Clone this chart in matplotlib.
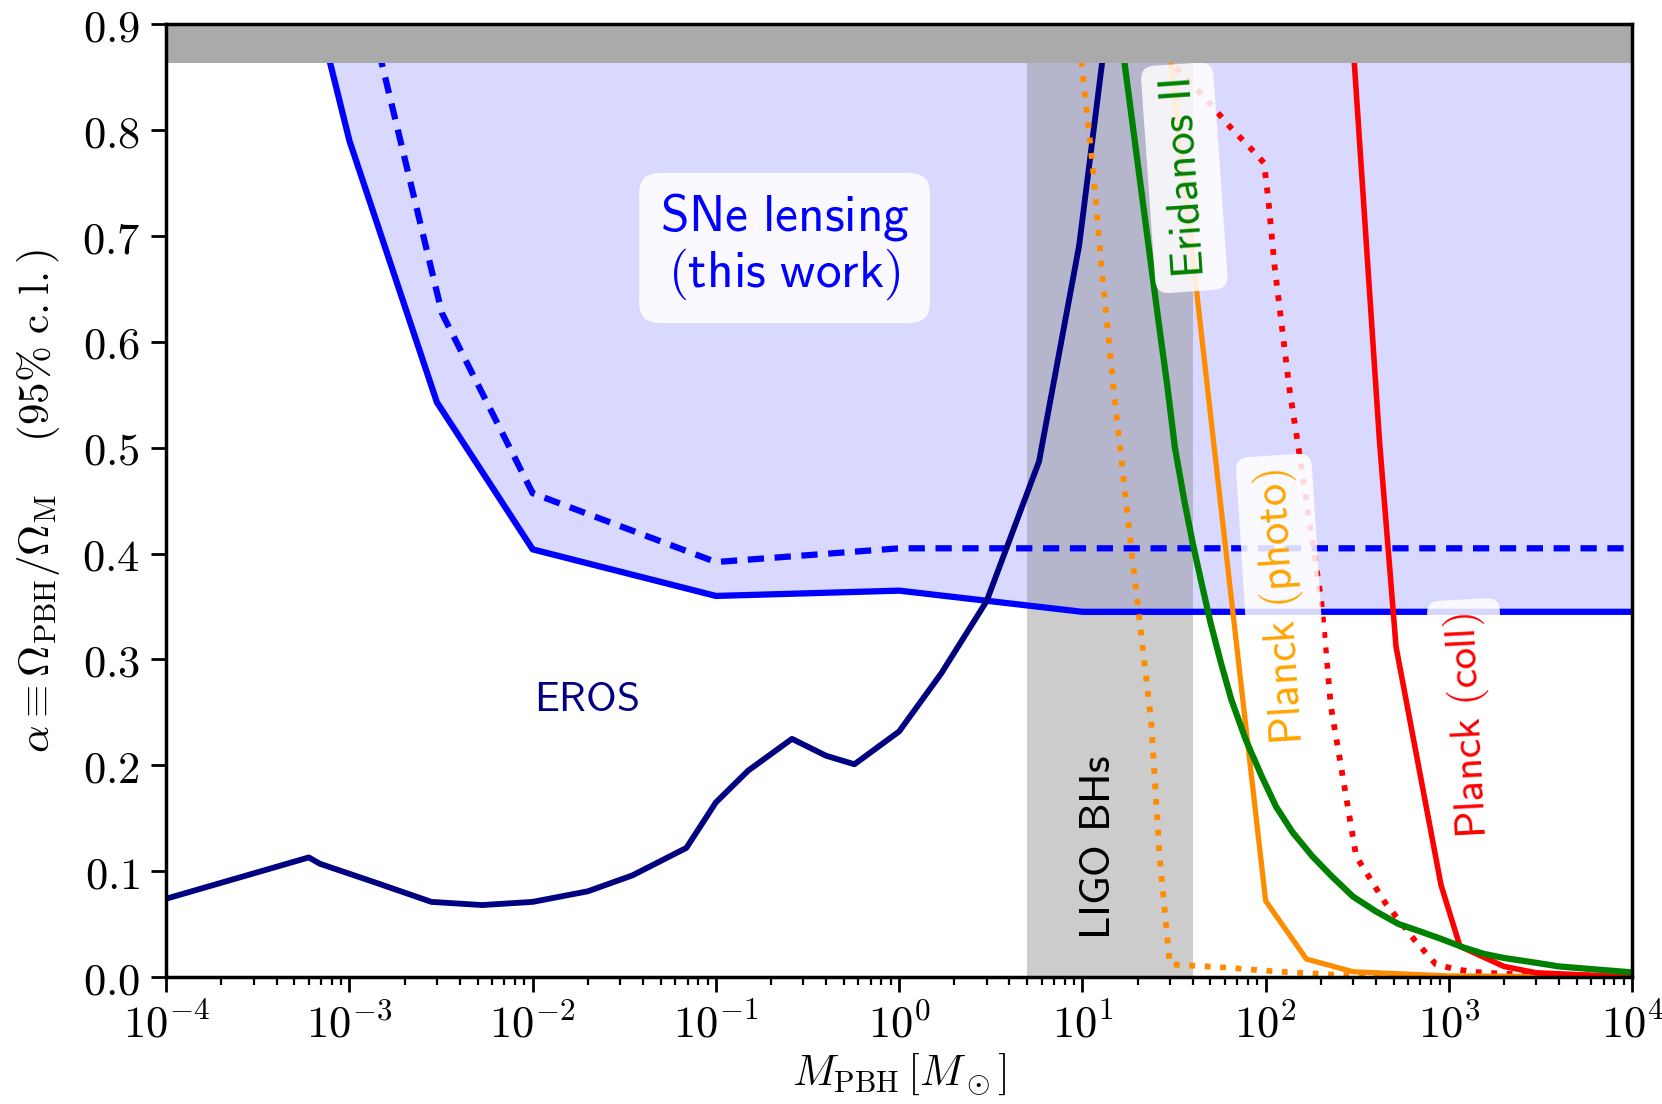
import numpy as np
import matplotlib
matplotlib.use("Agg")
import matplotlib.pyplot as plt

plt.rcParams['mathtext.fontset'] = 'cm'
plt.rcParams['axes.unicode_minus'] = False

# limites (M_PBH em massas solares, alpha)
sne_m = [5e-4, 1e-3, 3e-3, 1e-2, 0.1, 1.0, 10.0, 1e4]
sne_a = [1.00, 0.79, 0.543, 0.404, 0.360, 0.365, 0.345, 0.345]

sne_dash_m = [1e-3, 3.2e-3, 1e-2, 0.1, 1.0, 1e4]
sne_dash_a = [0.99, 0.627, 0.457, 0.392, 0.405, 0.405]

eros_m = [1e-4, 6e-4, 6.9e-4, 1.4e-3, 2.8e-3, 5.3e-3, 1e-2, 2e-2, 3.5e-2, 6.9e-2,
          0.1, 0.15, 0.26, 0.40, 0.57, 1.0, 1.7, 3.0, 5.8, 9.6, 12.8, 14.5]
eros_a = [0.074, 0.113, 0.107, 0.089, 0.071, 0.068, 0.071, 0.081, 0.096, 0.122,
          0.165, 0.195, 0.225, 0.209, 0.201, 0.232, 0.287, 0.355, 0.487, 0.691, 0.863, 0.95]

eri_m = [15.5, 17.0, 20.0, 23.0, 26.0, 29.0, 32.0, 36.0, 40.0, 45.0, 50.0, 57.0, 65.0, 78.0,
         95.0, 114.0, 140.0, 180.0, 230.0, 300.0, 400.0, 533.0, 700.0, 908.0, 1200.0,
         1545.0, 2000.0, 2860.0, 4000.0, 6000.0, 1e4]
eri_a = [0.95, 0.863, 0.77, 0.69, 0.62, 0.56, 0.50, 0.45, 0.41, 0.37, 0.335, 0.297,
         0.262, 0.224, 0.190, 0.161, 0.137, 0.114, 0.095, 0.076, 0.062, 0.050, 0.043, 0.036,
         0.028, 0.022, 0.018, 0.014, 0.010, 0.0075, 0.0044]

photo_m = [28.0, 49.0, 100.0, 167.0, 300.0, 1000.0, 1e4]
photo_a = [0.92, 0.545, 0.072, 0.017, 0.005, 0.001, 0.0]

photo_dot_m = [9.5, 9.9, 11.4, 12.7, 14.9, 18.5, 23.7, 26.4, 30.0, 60.0, 120.0, 250.0, 600.0, 1e4]
photo_dot_a = [0.95, 0.863, 0.765, 0.671, 0.551, 0.404, 0.243, 0.114, 0.012, 0.009, 0.005, 0.002, 0.0005, 0.0]

coll_m = [290.0, 418.0, 515.0, 906.0, 1150.0, 2000.0, 3000.0, 1e4]
coll_a = [0.92, 0.507, 0.312, 0.087, 0.029, 0.010, 0.004, 0.0]

coll_dot_m = [27.0, 30.8, 48.0, 64.0, 87.0, 98.0, 103.5, 112.0, 135.0, 149.0, 201.0, 227.0,
              312.0, 450.0, 650.0, 850.0, 1050.0, 1320.0, 2000.0, 1e4]
coll_dot_a = [0.90, 0.863, 0.828, 0.803, 0.779, 0.769, 0.734, 0.671, 0.555, 0.507, 0.356, 0.256,
              0.114, 0.070, 0.035, 0.012, 0.008, 0.005, 0.003, 0.001]

ligo_m = [5.0, 40.0]
alpha_max = 0.863

fig = plt.figure(figsize=(16.62, 11.04), dpi=100)
ax = fig.add_axes([0.1, 0.115, 0.882, 0.863])

# regiao excluida (azul claro) e bandas cinza
ax.fill_between(sne_m, sne_a, 0.9, color='blue', alpha=0.15, lw=0, zorder=1)
ax.fill_between(ligo_m, 0, alpha_max, color='gray', alpha=0.4, lw=0, zorder=1.5)
ax.axhspan(alpha_max, 0.9, color='#aaaaaa', lw=0, zorder=5)

ax.plot(sne_m, sne_a, color='blue', lw=4.5, zorder=2)
ax.plot(sne_dash_m, sne_dash_a, color='blue', lw=4.5, dashes=(2.6, 1.7), zorder=2)
ax.plot(eros_m, eros_a, color='navy', lw=4.2, zorder=2)
ax.plot(photo_dot_m, photo_dot_a, color='darkorange', lw=4.2, ls=':', zorder=2)
ax.plot(coll_dot_m, coll_dot_a, color='red', lw=4.2, ls=':', zorder=2)
ax.plot(photo_m, photo_a, color='darkorange', lw=3.8, zorder=2)
ax.plot(coll_m, coll_a, color='red', lw=4.0, zorder=2)
ax.plot(eri_m, eri_a, color='green', lw=4.5, zorder=2.1)

caixa = dict(boxstyle='round,pad=0.4', fc='white', ec='none', alpha=0.85)
ax.text(0.237, 0.690, r'$\mathsf{SNe\ lensing}$' + '\n' + r'$\mathsf{(this\ work)}$',
        color='blue', fontsize=37, ha='center', va='center', linespacing=1.1,
        bbox=caixa, zorder=3)
ax.text(0.0196, 0.263, r'$\mathsf{EROS}$', color='navy', fontsize=30,
        ha='center', va='center', zorder=3)
ax.text(12.2, 0.122, r'$\mathsf{LIGO\ BHs}$', color='black', fontsize=31,
        rotation=90, ha='center', va='center', zorder=3)
caixa2 = dict(boxstyle='round,pad=0.3', fc='white', ec='none', alpha=0.85)
ax.text(36, 0.755, r'$\mathsf{Eridanos\ II}$', color='green', fontsize=33,
        rotation=94, rotation_mode='anchor', ha='center', va='center', bbox=caixa2, zorder=3)
ax.text(124, 0.350, r'$\mathsf{Planck\ (photo)}$', color='orange', fontsize=32,
        rotation=93.6, rotation_mode='anchor', ha='center', va='center', bbox=caixa2, zorder=3)
ax.text(1294, 0.238, r'$\mathsf{Planck\ (coll)}$', color='red', fontsize=31,
        rotation=93, rotation_mode='anchor', ha='center', va='center', bbox=caixa2, zorder=3)

ax.set_xscale('log')
ax.set_xlim(1e-4, 1e4)
ax.set_ylim(0, 0.9)

xt = [1e-4, 1e-3, 1e-2, 1e-1, 1e0, 1e1, 1e2, 1e3, 1e4]
ax.set_xticks(xt)
ax.set_xticklabels([r'$10^{%d}$' % int(np.log10(v)) for v in xt])
yt = np.arange(0, 0.91, 0.1)
ax.set_yticks(yt)
ax.set_yticklabels([r'$%.1f$' % v for v in yt])

ax.tick_params(which='major', direction='out', length=11, width=2, labelsize=32, pad=8)
ax.tick_params(which='minor', direction='out', length=6, width=1.6)
for s in ax.spines.values():
    s.set_linewidth(2.5)
    s.set_zorder(6)

ax.set_xlabel(r'$M_{\rm PBH}\,[M_\odot]$', fontsize=31, labelpad=4)
ax.set_ylabel(r'$\alpha \equiv \Omega_{\rm PBH}/\Omega_{\rm M}\quad\ (95\%\ \mathrm{c.l.})$',
              fontsize=31, labelpad=14)

fig.savefig('out.png', dpi=100)
